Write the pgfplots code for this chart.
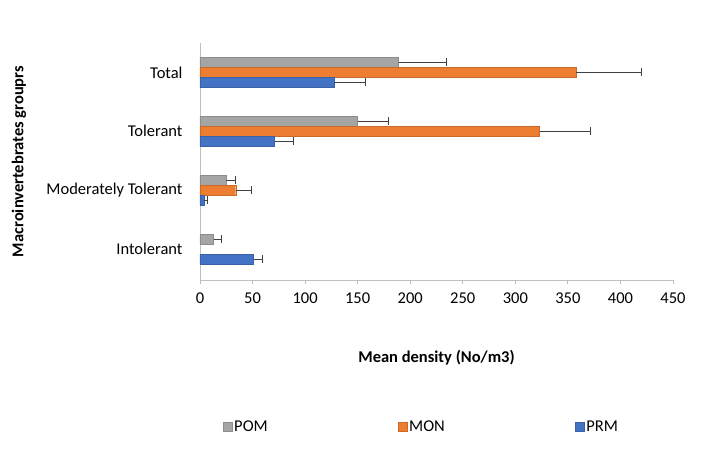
\documentclass[border=0pt]{standalone}
\usepackage{fontspec}
\setmainfont{Carlito}
\usepackage{pgfplots}
\pgfplotsset{compat=1.18}
\definecolor{cgray}{HTML}{A5A5A5}
\definecolor{corange}{HTML}{ED7D31}
\definecolor{cblue}{HTML}{4472C4}
\definecolor{errc}{HTML}{404040}
\definecolor{axc}{HTML}{BFBFBF}
\begin{document}
\begin{tikzpicture}[font=\fontsize{16.5bp}{19bp}\selectfont]
\useasboundingbox (-200bp,-193bp) rectangle (519bp,280bp);
\begin{axis}[
 at={(0,0)}, anchor=south west,
 scale only axis, width=473bp, height=237bp,
 xbar, bar width=9.5bp,
 xmin=0, xmax=450, ymin=-0.525, ymax=3.5,
 xtick={0,50,...,450},
 ytick={0,1,2,3},
 yticklabels={Intolerant,Moderately Tolerant,Tolerant,Total},
 axis lines*=left,
 axis line style={draw=axc, line width=0.9bp},
 x tick style={draw=axc, line width=0.9bp},
 xtick align=outside,
 major tick length=4bp,
 y tick style={draw=none},
 tick label style={font=\fontsize{16.5bp}{19bp}\selectfont},
 /pgf/number format/assume math mode=true,
 xticklabel style={yshift=-5bp},
 yticklabel style={xshift=-10bp},
 legend columns=3,
 legend style={at={(axis description cs:0.468,-0.62)}, anchor=center, draw=none, fill=none,
   font=\fontsize{16.5bp}{19bp}\selectfont,
   nodes={inner sep=2bp},
   /tikz/every even column/.append style={column sep=128bp}},
 legend image code/.code={\fill[#1] (0bp,-4.5bp) rectangle (9bp,4.5bp);},
 clip=false,
]
\addplot[fill=cgray, draw=cgray!85!black, line width=0.4bp, bar shift=10bp,
  error bars/.cd, x dir=plus, x explicit, error mark=|,
  error bar style={errc, line width=0.9bp},
  error mark options={errc, mark size=4bp, line width=0.9bp}]
  coordinates {(189,3) +- (45,0) (150,2) +- (29,0) (25,1) +- (9,0) (13,0) +- (7,0)};
\addplot[fill=corange, draw=corange!85!black, line width=0.4bp, bar shift=0bp,
  error bars/.cd, x dir=plus, x explicit, error mark=|,
  error bar style={errc, line width=0.9bp},
  error mark options={errc, mark size=4bp, line width=0.9bp}]
  coordinates {(358,3) +- (62,0) (323,2) +- (48,0) (34,1) +- (15,0)};
\addplot[fill=cblue, draw=cblue!85!black, line width=0.4bp, bar shift=-10bp,
  error bars/.cd, x dir=plus, x explicit, error mark=|,
  error bar style={errc, line width=0.9bp},
  error mark options={errc, mark size=4bp, line width=0.9bp}]
  coordinates {(128,3) +- (29,0) (71,2) +- (18,0) (4,1) +- (3.5,0) (51,0) +- (8,0)};
\legend{POM,MON,PRM}
\end{axis}
\node[font=\fontsize{16.5bp}{19bp}\selectfont\bfseries] at (236.5bp,-78bp) {Mean density (No/m3)};
\node[font=\fontsize{16.5bp}{19bp}\selectfont\bfseries, rotate=90] at (-181bp,118.5bp) {Macroinvertebrates grouprs};
\end{tikzpicture}
\end{document}
